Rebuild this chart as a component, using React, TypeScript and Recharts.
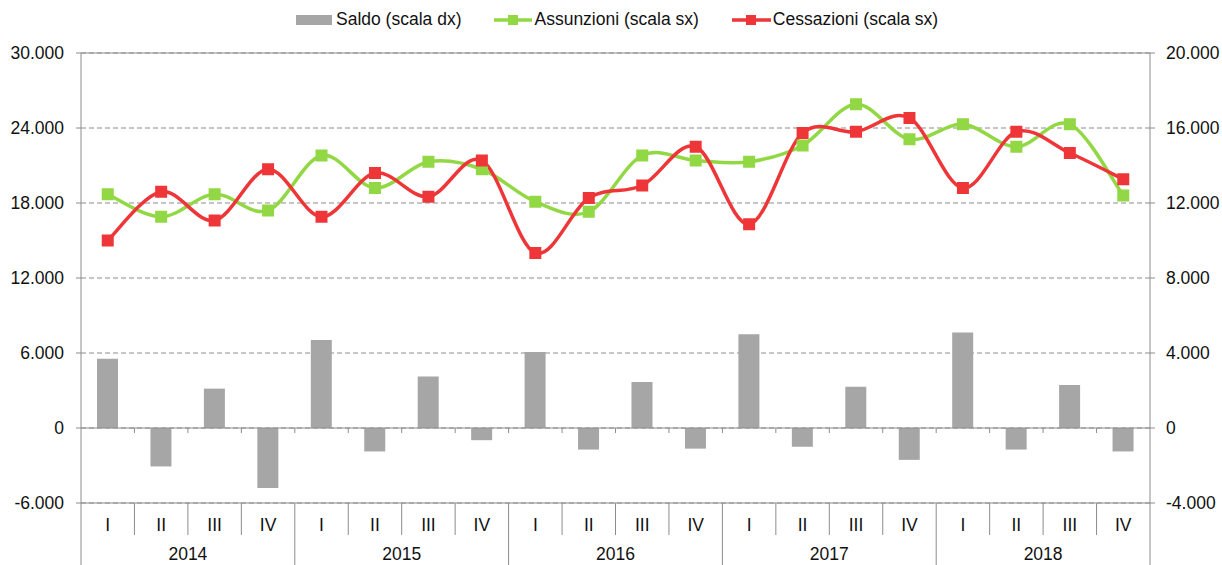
import React from 'react';
import { ComposedChart, Bar, Line, XAxis, YAxis, CartesianGrid, ReferenceLine } from 'recharts';

const quarters = ['I', 'II', 'III', 'IV', 'I', 'II', 'III', 'IV', 'I', 'II', 'III', 'IV', 'I', 'II', 'III', 'IV', 'I', 'II', 'III', 'IV'];
const years = ['2014', '2015', '2016', '2017', '2018'];

const saldo = [3700, -2050, 2100, -3200, 4700, -1250, 2750, -650, 4050, -1150, 2450, -1100, 5000, -1000, 2200, -1700, 5100, -1150, 2300, -1250];
const assunzioni = [18700, 16900, 18700, 17400, 21800, 19200, 21300, 20700, 18100, 17300, 21800, 21400, 21300, 22600, 25900, 23100, 24300, 22500, 24300, 18600];
const cessazioni = [15000, 18900, 16600, 20700, 16900, 20400, 18500, 21400, 14000, 18400, 19400, 22500, 16300, 23600, 23700, 24800, 19200, 23700, 22000, 19900];

const leftTicks = [-6000, 0, 6000, 12000, 18000, 24000, 30000];
const rightTicks = [-4000, 0, 4000, 8000, 12000, 16000, 20000];

const data = quarters.map((q, i) => ({
  key: `${years[Math.floor(i / 4)]}-${q}`,
  q,
  year: years[Math.floor(i / 4)],
  saldo: saldo[i],
  assunzioni: assunzioni[i],
  cessazioni: cessazioni[i],
}));

const W = 1222;
const H = 565;
const TOP = 53;
const LEFT_W = 81;
const RIGHT_W = 72;
const X_H = 62;
const PLOT_W = W - LEFT_W - RIGHT_W;
const PLOT_H = H - TOP - X_H;
const BOTTOM = TOP + PLOT_H;
const BAND = PLOT_W / quarters.length;
const ZERO_Y = TOP + (30000 / 36000) * PLOT_H;

const GREEN = '#92D844';
const RED = '#EE3638';
const GRAY = '#A6A6A6';
const LINE = '#8C8C8C';
const FONT = '"Liberation Sans", Arial, Helvetica, sans-serif';
const FS = 17.5;

const fmt = (n: number) => String(n).replace(/\B(?=(\d{3})+(?!\d))/g, '.');

// Excel-like smoothing (Catmull-Rom through the points)
const excelCurve = (context: any) => {
  let pts: number[][] = [];
  return {
    areaStart() {},
    areaEnd() {},
    lineStart() { pts = []; },
    point(x: number, y: number) { pts.push([+x, +y]); },
    lineEnd() {
      if (!pts.length) return;
      context.moveTo(pts[0][0], pts[0][1]);
      for (let i = 0; i < pts.length - 1; i++) {
        const p0 = pts[i - 1] || pts[i];
        const p1 = pts[i];
        const p2 = pts[i + 1];
        const p3 = pts[i + 2] || pts[i + 1];
        context.bezierCurveTo(
          p1[0] + (p2[0] - p0[0]) / 6, p1[1] + (p2[1] - p0[1]) / 6,
          p2[0] - (p3[0] - p1[0]) / 6, p2[1] - (p3[1] - p1[1]) / 6,
          p2[0], p2[1]
        );
      }
    },
  };
};

const squareDot = (color: string) => (props: any) => {
  const { cx, cy, index } = props;
  if (cx == null || cy == null) return null;
  return <rect key={index} x={cx - 6} y={cy - 6} width={12} height={12} fill={color} />;
};

const QuarterTick = (props: any) => {
  const { x, index } = props;
  const lx = x - BAND / 2;
  const i = index;
  return (
    <g>
      <text x={x} y={BOTTOM + 28} textAnchor="middle" fontSize={FS} fill="#111" fontFamily={FONT}>
        {quarters[i]}
      </text>
      <line x1={lx} x2={lx} y1={BOTTOM} y2={i % 4 === 0 ? H : BOTTOM + 32} stroke={LINE} />
      {i === quarters.length - 1 && (
        <line x1={x + BAND / 2} x2={x + BAND / 2} y1={BOTTOM} y2={H} stroke={LINE} />
      )}
      {i > 0 && <line x1={lx} x2={lx} y1={ZERO_Y} y2={ZERO_Y + 5} stroke={LINE} />}
      {i % 4 === 2 && (
        <text x={lx} y={H - 5} textAnchor="middle" fontSize={FS} fill="#111" fontFamily={FONT}>
          {years[Math.floor(i / 4)]}
        </text>
      )}
    </g>
  );
};

const LegendBox = () => (
  <div style={{ position: 'absolute', left: 296, top: 9, display: 'flex', alignItems: 'center', gap: 33, fontFamily: FONT, fontSize: FS, color: '#111', whiteSpace: 'nowrap' }}>
    <div style={{ display: 'flex', alignItems: 'center' }}>
      <div style={{ width: 36, height: 10, background: GRAY, marginRight: 4 }} />
      <span>Saldo (scala dx)</span>
    </div>
    <div style={{ display: 'flex', alignItems: 'center' }}>
      <svg width={38} height={14} style={{ marginRight: 2 }}>
        <line x1={0} x2={38} y1={7} y2={7} stroke={GREEN} strokeWidth={3.5} />
        <rect x={14} y={2} width={10} height={10} fill={GREEN} />
      </svg>
      <span>Assunzioni (scala sx)</span>
    </div>
    <div style={{ display: 'flex', alignItems: 'center' }}>
      <svg width={39} height={14} style={{ marginRight: 2 }}>
        <line x1={0} x2={39} y1={7} y2={7} stroke={RED} strokeWidth={3.5} />
        <rect x={14} y={2} width={10} height={10} fill={RED} />
      </svg>
      <span>Cessazioni (scala sx)</span>
    </div>
  </div>
);

export default function App() {
  return (
    <div style={{ position: 'absolute', left: 0, top: 0, width: W, height: H, background: '#fff' }}>
      <ComposedChart
        width={W}
        height={H}
        data={data}
        margin={{ top: TOP, right: 0, left: 0, bottom: 0 }}
        style={{ fontFamily: FONT }}
      >
        <CartesianGrid yAxisId="left" vertical={false} stroke={LINE} strokeDasharray="5 3" />
        <XAxis
          dataKey="key"
          interval={0}
          height={X_H}
          axisLine={{ stroke: LINE }}
          tickLine={false}
          tick={<QuarterTick />}
        />
        <YAxis
          yAxisId="left"
          width={LEFT_W}
          domain={[-6000, 30000]}
          ticks={leftTicks}
          tickFormatter={fmt}
          axisLine={{ stroke: LINE }}
          tickLine={{ stroke: LINE }}
          tickSize={5}
          tickMargin={12}
          tick={{ fill: '#111', fontSize: FS }}
        />
        <YAxis
          yAxisId="right"
          orientation="right"
          width={RIGHT_W}
          domain={[-4000, 20000]}
          ticks={rightTicks}
          tickFormatter={fmt}
          axisLine={{ stroke: LINE }}
          tickLine={{ stroke: LINE }}
          tickSize={5}
          tickMargin={11}
          tick={{ fill: '#111', fontSize: FS, textAnchor: 'start' }}
        />
        <ReferenceLine yAxisId="left" y={30000} stroke={LINE} />
        <Bar yAxisId="right" dataKey="saldo" fill={GRAY} barSize={21} isAnimationActive={false} />
        <ReferenceLine yAxisId="left" y={0} stroke={LINE} />
        <Line
          yAxisId="left"
          dataKey="assunzioni"
          type={excelCurve as any}
          stroke={GREEN}
          strokeWidth={3.5}
          dot={squareDot(GREEN)}
          activeDot={false}
          isAnimationActive={false}
        />
        <Line
          yAxisId="left"
          dataKey="cessazioni"
          type={excelCurve as any}
          stroke={RED}
          strokeWidth={3.5}
          dot={squareDot(RED)}
          activeDot={false}
          isAnimationActive={false}
        />
      </ComposedChart>
      <LegendBox />
    </div>
  );
}
